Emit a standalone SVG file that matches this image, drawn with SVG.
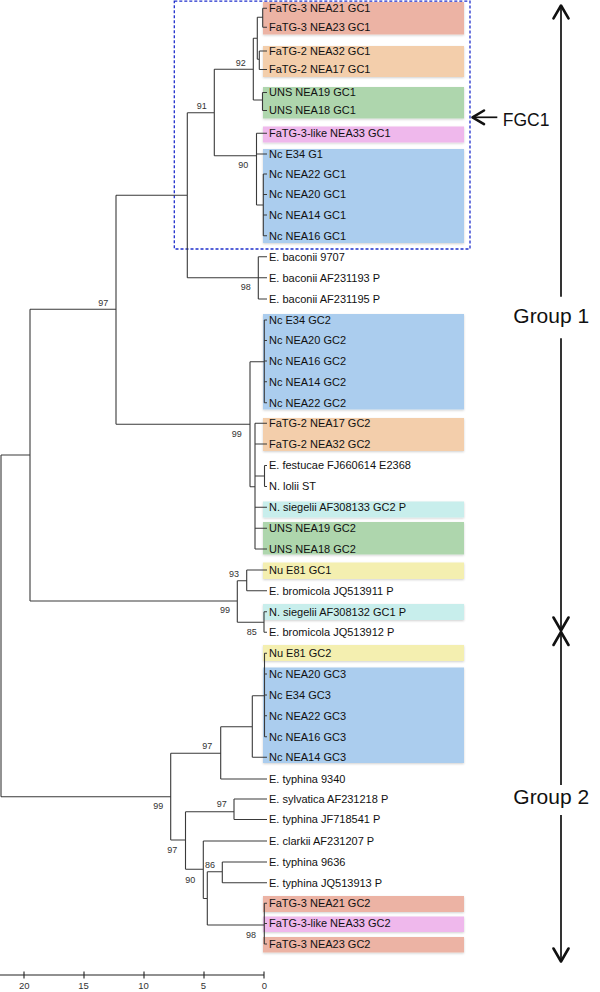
<svg xmlns="http://www.w3.org/2000/svg" width="600" height="992" viewBox="0 0 600 992">
<defs>
<style>
.leaf{font-family:"Liberation Sans",Arial,sans-serif;font-size:11px;fill:#111}
.bs{font-family:"Liberation Sans",Arial,sans-serif;font-size:9px;fill:#333;text-anchor:middle}
.ax{font-family:"Liberation Sans",Arial,sans-serif;font-size:9.5px;fill:#333;text-anchor:middle}
.big{font-family:"Liberation Sans",Arial,sans-serif;fill:#111}
.br{fill:none;stroke:#3a3a3a;stroke-width:1.1}
.hl{filter:url(#soft)}
.fa3{fill:#ECB3A4}.fa2{fill:#F3CEAB}.uns{fill:#AED6AD}.lk{fill:#EFB8EC}.nc{fill:#ABCDEE}.ns{fill:#C8EEEC}.nu{fill:#F4EFB0}
.arr{fill:none;stroke:#111;stroke-width:2.6;stroke-linecap:round;stroke-linejoin:round}
.ln{fill:none;stroke:#111;stroke-width:1.7}
</style>
<filter id="soft" x="-5%" y="-20%" width="110%" height="150%">
<feDropShadow dx="0" dy="1" stdDeviation="1" flood-color="#000" flood-opacity="0.18"/>
</filter>
</defs>
<rect width="600" height="992" fill="#fff"/>

<g id="highlights">
<rect class="hl fa3" x="263" y="2" width="201" height="32.5"/>
<rect class="hl fa2" x="263" y="46" width="201" height="31"/>
<rect class="hl uns" x="263" y="87" width="201" height="31.5"/>
<rect class="hl lk" x="263" y="126.5" width="201" height="16"/>
<rect class="hl nc" x="263" y="149" width="201" height="94"/>
<rect class="hl nc" x="263" y="314" width="201" height="95.5"/>
<rect class="hl fa2" x="263" y="418" width="201" height="33"/>
<rect class="hl ns" x="263" y="501.5" width="201" height="16"/>
<rect class="hl uns" x="263" y="522" width="201" height="32.5"/>
<rect class="hl nu" x="263" y="562.5" width="201" height="16.5"/>
<rect class="hl ns" x="263" y="604" width="201" height="16"/>
<rect class="hl nu" x="263" y="645" width="201" height="16"/>
<rect class="hl nc" x="263" y="667.5" width="201" height="95.5"/>
<rect class="hl fa3" x="263" y="896" width="201" height="16"/>
<rect class="hl lk" x="263" y="916.5" width="201" height="15.5"/>
<rect class="hl fa3" x="263" y="937" width="201" height="15.5"/>
</g>

<g id="fgc1-box">
<rect x="174.3" y="1.2" width="295.7" height="247.8" fill="none" stroke="#1F2FCC" stroke-width="1.3" stroke-dasharray="3 2"/>
</g>

<g id="connectors">
<path class="br" d="
M1,455V796.7 M1,455H30 M1,796.7H170.7
M30,309.3V601 M30,309.3H116 M30,601H237.3
M116,195.3V424.3 M116,195.3H187.3 M116,424.3H250
M187.3,112.7V277.7 M187.3,112.7H214.3 M187.3,277.7H258.3
M258.3,256.7V299 M258.3,256.7H267 M258.3,277.7H267 M258.3,299H267
M214.3,69.3V155.7 M214.3,69.3H253.3 M214.3,155.7H256.5
M253.3,38.3V100 M253.3,38.3H257.3 M253.3,100H262.5
M257.3,17.3V59.3 M257.3,17.3H262.7 M257.3,59.3H259.3
M262.7,8.3V27.3 M262.7,8.3H267 M262.7,27.3H267
M259.3,51V69.5 M259.3,51H267 M259.3,69.5H267
M262.5,92.5V110.5 M262.5,92.5H267 M262.5,110.5H267
M256.5,133.3V205 M256.5,133.3H267 M256.5,154H267 M256.5,205H263.3
M263.3,174V235.7 M263.3,174H267 M263.3,194.5H267 M263.3,215H267 M263.3,235.7H267
M250,361.7V486.7 M250,361.7H264.3 M250,486.7H255
M264.3,320V402.7 M264.3,320H267 M264.3,340.5H267 M264.3,361H267 M264.3,381.7H267 M264.3,402.7H267
M255,423.3V549 M255,423.3H267 M255,444H267 M255,507.3H267 M255,528.3H267 M255,549H267 M255,476H264.5
M264.5,465.5V486.5 M264.5,465.5H267 M264.5,486.5H267
M237.3,580.7V622.3 M237.3,580.7H246.7 M237.3,622.3H264
M246.7,570V590.7 M246.7,570H267 M246.7,590.7H267
M264,611.7V632.3 M264,611.7H267 M264,632.3H267
M170.7,753.3V840 M170.7,753.3H220.7 M170.7,840H185.5
M220.7,726.7V779 M220.7,726.7H252.3 M220.7,779H267
M252.3,695.7V757.3 M252.3,695.7H264.5 M252.3,757.3H267
M264.5,653.3V736.7 M264.5,653.3H267 M264.5,674H267 M264.5,695H267 M264.5,715.7H267 M264.5,736.7H267
M185.5,811.7V869.3 M185.5,811.7H234 M185.5,869.3H203.3
M234,799V819.5 M234,799H267 M234,819.5H267
M203.3,841V898.5 M203.3,841H267 M203.3,898.5H207.3
M207.3,871.7V925 M207.3,871.7H222.3 M207.3,925H264.3
M222.3,862V882.7 M222.3,862H267 M222.3,882.7H267
M264.3,903.3V944 M264.3,903.3H267 M264.3,923.5H267 M264.3,944H267"/>
</g>

<g id="bootstrap">
<text class="bs" x="103.3" y="306">97</text>
<text class="bs" x="201.7" y="109.2">91</text>
<text class="bs" x="240.7" y="66.2">92</text>
<text class="bs" x="243.3" y="167.7">90</text>
<text class="bs" x="245.7" y="289.9">98</text>
<text class="bs" x="236.7" y="436.5">99</text>
<text class="bs" x="234" y="576.5">93</text>
<text class="bs" x="225" y="613.2">99</text>
<text class="bs" x="251.7" y="634.9">85</text>
<text class="bs" x="158.3" y="808.9">99</text>
<text class="bs" x="207.3" y="748.9">97</text>
<text class="bs" x="172.3" y="852.7">97</text>
<text class="bs" x="221.7" y="806.5">97</text>
<text class="bs" x="190.3" y="882.7">90</text>
<text class="bs" x="210" y="868.2">86</text>
<text class="bs" x="251" y="937.5">98</text>
</g>

<g id="leaves">
<g id="l0"><text class="leaf" x="269" y="12.2">FaTG-3 NEA21 GC1</text></g>
<g id="l1"><text class="leaf" x="269" y="31.2">FaTG-3 NEA23 GC1</text></g>
<g id="l2"><text class="leaf" x="269" y="54.9">FaTG-2 NEA32 GC1</text></g>
<g id="l3"><text class="leaf" x="269" y="73.4">FaTG-2 NEA17 GC1</text></g>
<g id="l4"><text class="leaf" x="269" y="96.4">UNS NEA19 GC1</text></g>
<g id="l5"><text class="leaf" x="269" y="114.4">UNS NEA18 GC1</text></g>
<g id="l6"><text class="leaf" x="269" y="137.2">FaTG-3-like NEA33 GC1</text></g>
<g id="l7"><text class="leaf" x="269" y="157.9">Nc E34 G1</text></g>
<g id="l8"><text class="leaf" x="269" y="177.9">Nc NEA22 GC1</text></g>
<g id="l9"><text class="leaf" x="269" y="198.4">Nc NEA20 GC1</text></g>
<g id="l10"><text class="leaf" x="269" y="218.9">Nc NEA14 GC1</text></g>
<g id="l11"><text class="leaf" x="269" y="239.6">Nc NEA16 GC1</text></g>
<g id="l12"><text class="leaf" x="269" y="260.6">E. baconii 9707</text></g>
<g id="l13"><text class="leaf" x="269" y="281.6">E. baconii AF231193 P</text></g>
<g id="l14"><text class="leaf" x="269" y="302.9">E. baconii AF231195 P</text></g>
<g id="l15"><text class="leaf" x="269" y="323.9">Nc E34 GC2</text></g>
<g id="l16"><text class="leaf" x="269" y="344.4">Nc NEA20 GC2</text></g>
<g id="l17"><text class="leaf" x="269" y="364.9">Nc NEA16 GC2</text></g>
<g id="l18"><text class="leaf" x="269" y="385.6">Nc NEA14 GC2</text></g>
<g id="l19"><text class="leaf" x="269" y="406.6">Nc NEA22 GC2</text></g>
<g id="l20"><text class="leaf" x="269" y="427.2">FaTG-2 NEA17 GC2</text></g>
<g id="l21"><text class="leaf" x="269" y="447.9">FaTG-2 NEA32 GC2</text></g>
<g id="l22"><text class="leaf" x="269" y="469.4">E. festucae FJ660614 E2368</text></g>
<g id="l23"><text class="leaf" x="269" y="490.4">N. lolii ST</text></g>
<g id="l24"><text class="leaf" x="269" y="511.2">N. siegelii AF308133 GC2 P</text></g>
<g id="l25"><text class="leaf" x="269" y="532.2">UNS NEA19 GC2</text></g>
<g id="l26"><text class="leaf" x="269" y="552.9">UNS NEA18 GC2</text></g>
<g id="l27"><text class="leaf" x="269" y="573.9">Nu E81 GC1</text></g>
<g id="l28"><text class="leaf" x="269" y="594.6">E. bromicola JQ513911 P</text></g>
<g id="l29"><text class="leaf" x="269" y="615.6">N. siegelii AF308132 GC1 P</text></g>
<g id="l30"><text class="leaf" x="269" y="636.2">E. bromicola JQ513912 P</text></g>
<g id="l31"><text class="leaf" x="269" y="657.2">Nu E81 GC2</text></g>
<g id="l32"><text class="leaf" x="269" y="677.9">Nc NEA20 GC3</text></g>
<g id="l33"><text class="leaf" x="269" y="698.9">Nc E34 GC3</text></g>
<g id="l34"><text class="leaf" x="269" y="719.6">Nc NEA22 GC3</text></g>
<g id="l35"><text class="leaf" x="269" y="740.6">Nc NEA16 GC3</text></g>
<g id="l36"><text class="leaf" x="269" y="761.2">Nc NEA14 GC3</text></g>
<g id="l37"><text class="leaf" x="269" y="782.9">E. typhina 9340</text></g>
<g id="l38"><text class="leaf" x="269" y="802.9">E. sylvatica AF231218 P</text></g>
<g id="l39"><text class="leaf" x="269" y="823.4">E. typhina JF718541 P</text></g>
<g id="l40"><text class="leaf" x="269" y="844.9">E. clarkii AF231207 P</text></g>
<g id="l41"><text class="leaf" x="269" y="865.9">E. typhina 9636</text></g>
<g id="l42"><text class="leaf" x="269" y="886.6">E. typhina JQ513913 P</text></g>
<g id="l43"><text class="leaf" x="269" y="907.2">FaTG-3 NEA21 GC2</text></g>
<g id="l44"><text class="leaf" x="269" y="927.4">FaTG-3-like NEA33 GC2</text></g>
<g id="l45"><text class="leaf" x="269" y="947.9">FaTG-3 NEA23 GC2</text></g>
</g>

<g id="fgc1-label">
<path class="ln" d="M473,117.3H497.3" stroke-width="2.2"/>
<path class="arr" d="M484,110.5L472.5,117.3L484,124.1"/>
<text class="big" x="502.7" y="125.6" font-size="17.5">FGC1</text>
</g>

<g id="group1">
<path class="ln" d="M561,6V296.7 M561,338.3V630"/>
<path class="arr" d="M553.5,18.3L561,5.5L568.5,18.3 M553.5,617.5L561,630.5L568.5,617.5"/>
<text class="big" x="513.3" y="323.3" font-size="21">Group 1</text>
</g>

<g id="group2">
<path class="ln" d="M561,632V785 M561,815V960.5"/>
<path class="arr" d="M553.5,645L561,632L568.5,645 M553.5,948.5L561,961.5L568.5,948.5"/>
<text class="big" x="513.3" y="804" font-size="21">Group 2</text>
</g>

<g id="axis">
<path d="M0,975H264.5 M24,971.5V978.5 M84,971.5V978.5 M144,971.5V978.5 M204,971.5V978.5 M264,971.5V978.5" fill="none" stroke="#222" stroke-width="1.1"/>
<text class="ax" x="24.3" y="989.3">20</text>
<text class="ax" x="83.5" y="989.3">15</text>
<text class="ax" x="143.5" y="989.3">10</text>
<text class="ax" x="203.5" y="989.3">5</text>
<text class="ax" x="264.3" y="989.3">0</text>
</g>
</svg>
